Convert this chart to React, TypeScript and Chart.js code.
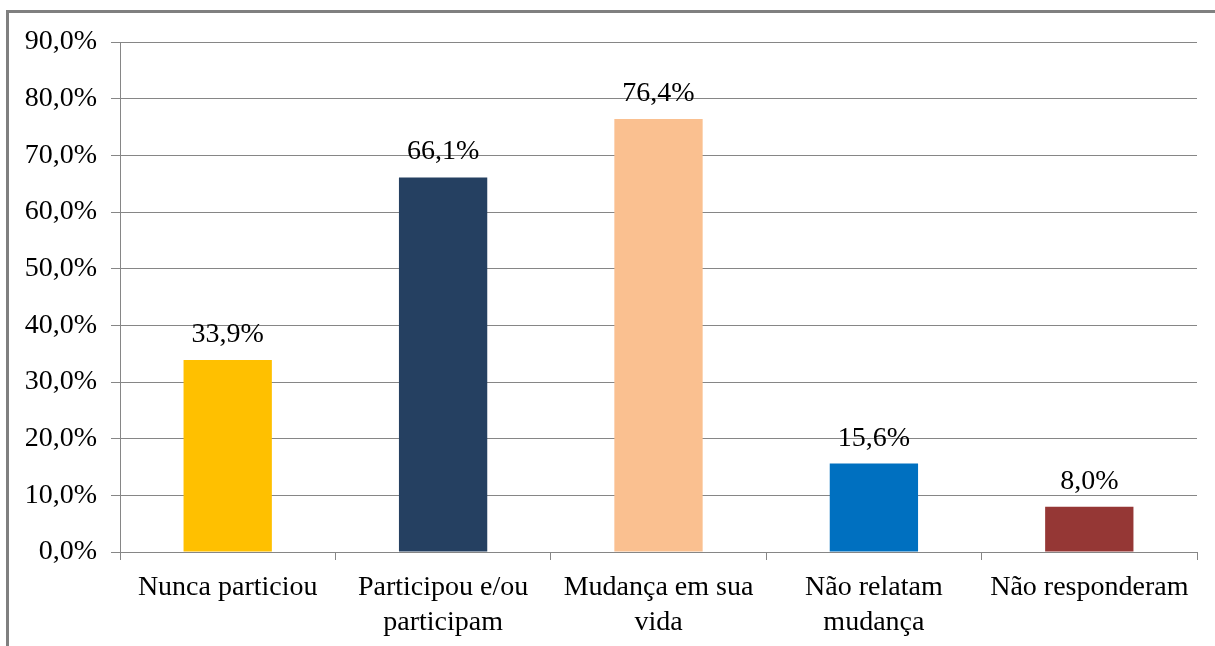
import React, { useEffect, useRef } from "react";
import { Chart, registerables } from "chart.js";

Chart.register(...registerables);

const categories: string[][] = [
  ["Nunca particiou"],
  ["Participou e/ou", "participam"],
  ["Mudança em sua", "vida"],
  ["Não relatam", "mudança"],
  ["Não responderam"],
];
const values: number[] = [33.9, 66.1, 76.4, 15.6, 8.0];
const barColors: string[] = ["#FFC000", "#254061", "#FAC090", "#0070C0", "#953735"];
const yTicks: number[] = [0, 10, 20, 30, 40, 50, 60, 70, 80, 90];

const fmt = (v: number) => v.toFixed(1).replace(".", ",") + "%";
const FONT = "'Liberation Serif', 'Times New Roman', serif";

const valueLabels = {
  id: "valueLabels",
  afterDatasetsDraw(chart: any) {
    const ctx = chart.ctx;
    const meta = chart.getDatasetMeta(0);
    ctx.save();
    ctx.font = `28px ${FONT}`;
    ctx.fillStyle = "#000";
    ctx.textAlign = "center";
    ctx.textBaseline = "alphabetic";
    meta.data.forEach((bar: any, i: number) => {
      ctx.fillText(fmt(values[i]), bar.x, bar.y - 18);
    });
    ctx.restore();
  },
};

export default function App() {
  const ref = useRef<HTMLCanvasElement>(null);
  useEffect(() => {
    if (!ref.current) return;
    const chart = new Chart(ref.current, {
      type: "bar",
      data: {
        labels: categories,
        datasets: [
          {
            data: values,
            backgroundColor: barColors,
            borderWidth: 0,
            barPercentage: 0.41,
            categoryPercentage: 1,
          },
        ],
      },
      options: {
        animation: false,
        responsive: false,
        maintainAspectRatio: false,
        layout: { padding: { left: 0, right: 18, top: 42, bottom: 0 } },
        plugins: {
          legend: { display: false },
          tooltip: { enabled: false },
        },
        scales: {
          x: {
            grid: {
              display: true,
              drawOnChartArea: false,
              drawTicks: true,
              tickLength: 8,
              color: "#868686",
              offset: true,
            },
            border: { display: true, color: "#868686", width: 1 },
            ticks: {
              color: "#000",
              font: { family: FONT, size: 28, lineHeight: 1.25 },
              padding: 10,
              maxRotation: 0,
              autoSkip: false,
            },
            afterFit(scale: any) {
              scale.height = 94;
            },
          },
          y: {
            min: 0,
            max: 90,
            afterBuildTicks(scale: any) {
              scale.ticks = yTicks.map((v) => ({ value: v }));
            },
            grid: {
              color: "#868686",
              tickLength: 9,
              drawTicks: true,
            },
            border: { display: true, color: "#868686", width: 1 },
            ticks: {
              color: "#000",
              font: { family: FONT, size: 28 },
              padding: 14,
              callback: (v: any) => fmt(Number(v)),
            },
            afterFit(scale: any) {
              scale.width = 120;
            },
          },
        },
      },
      plugins: [valueLabels],
    });
    return () => chart.destroy();
  }, []);

  return (
    <div style={{ position: "fixed", left: 0, top: 0, width: 1215, height: 646, background: "#fff", overflow: "hidden" }}>
      <div
        style={{
          position: "absolute",
          left: 6,
          top: 10,
          width: 1300,
          height: 800,
          borderLeft: "3px solid #808080",
          borderTop: "3px solid #808080",
          boxSizing: "border-box",
        }}
      />
      <canvas ref={ref} width={1215} height={646} style={{ position: "absolute", left: 0, top: 0, display: "block" }} />
    </div>
  );
}
